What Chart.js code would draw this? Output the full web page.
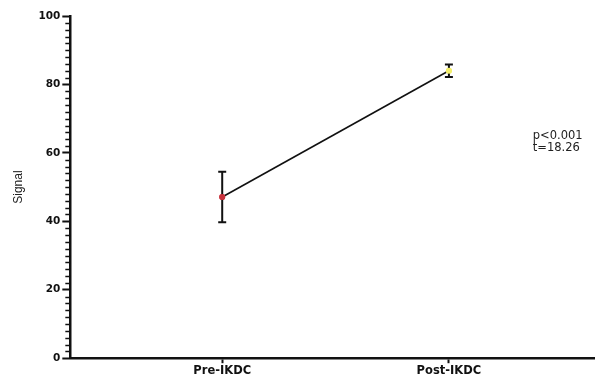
<!DOCTYPE html>
<html>
<head>
<meta charset="utf-8">
<script src="https://cdn.jsdelivr.net/npm/chart.js@4.4.1/dist/chart.umd.min.js"></script>
<style>
  html, body { margin: 0; padding: 0; background: #ffffff; }
  #wrap { width: 598px; height: 381px; }
</style>
</head>
<body>
<div id="wrap"><canvas id="c" width="598" height="381"></canvas></div>
<script>
const categories = ['Pre-IKDC', 'Post-IKDC'];
const categoryPositions = [1, 2];
const means = [47.1, 84.0];
const sds = [7.4, 1.8];
const pointColors = ['#c8323c', '#f2ee6a'];
const yTicks = [0, 20, 40, 60, 80, 100];
const statsText = ['p<0.001', 't=18.26'];
const statsPos = { x: 2.37, y: [65.0, 61.5] };

const points = categoryPositions.map((x, i) => ({ x: x, y: means[i] }));

const errorBars = {
  id: 'errorBars',
  afterDatasetsDraw(chart) {
    const ctx = chart.ctx, xs = chart.scales.x, ys = chart.scales.y;
    ctx.save();
    ctx.strokeStyle = '#111';
    ctx.lineWidth = 2;
    points.forEach((p, i) => {
      const px = xs.getPixelForValue(p.x);
      const top = ys.getPixelForValue(p.y + sds[i]);
      const bot = ys.getPixelForValue(p.y - sds[i]);
      ctx.beginPath();
      ctx.moveTo(px, top); ctx.lineTo(px, bot);
      ctx.moveTo(px - 4, top); ctx.lineTo(px + 4, top);
      ctx.moveTo(px - 4, bot); ctx.lineTo(px + 4, bot);
      ctx.stroke();
    });
    points.forEach((p, i) => {
      const px = xs.getPixelForValue(p.x), py = ys.getPixelForValue(p.y);
      ctx.beginPath();
      ctx.fillStyle = pointColors[i];
      ctx.arc(px, py, 3, 0, Math.PI * 2);
      ctx.fill();
    });
    ctx.fillStyle = '#222';
    ctx.font = '11.5px "DejaVu Sans", sans-serif';
    ctx.textAlign = 'left';
    ctx.textBaseline = 'middle';
    statsText.forEach((t, i) => {
      ctx.fillText(t, xs.getPixelForValue(statsPos.x), ys.getPixelForValue(statsPos.y[i]));
    });
    ctx.restore();
  }
};

const minorTicks = {
  id: 'minorTicks',
  afterDraw(chart) {
    const ctx = chart.ctx, ys = chart.scales.y;
    const left = chart.chartArea.left;
    ctx.save();
    ctx.strokeStyle = '#111';
    ctx.lineWidth = 1.5;
    for (let v = ys.min; v <= ys.max; v += 2) {
      if (v % 20 === 0) continue;
      const py = Math.round(ys.getPixelForValue(v)) + 0.5;
      ctx.beginPath();
      ctx.moveTo(left - 5, py); ctx.lineTo(left, py);
      ctx.stroke();
    }
    ctx.restore();
  }
};

new Chart(document.getElementById('c'), {
  type: 'scatter',
  data: {
    datasets: [{
      data: points,
      showLine: true,
      borderColor: '#111',
      borderWidth: 1.6,
      pointBackgroundColor: pointColors,
      pointBorderWidth: 0,
      pointRadius: 3
    }]
  },
  options: {
    responsive: false,
    animation: false,
    devicePixelRatio: 1,
    layout: { padding: { top: 16, right: 0, left: 11, bottom: 2 } },
    plugins: { legend: { display: false }, tooltip: { enabled: false } },
    scales: {
      x: {
        type: 'linear',
        min: 0.33, max: 2.64,
        afterBuildTicks(scale) { scale.ticks = categoryPositions.map(v => ({ value: v })); },
        ticks: {
          callback(v) { const i = categoryPositions.indexOf(v); return i >= 0 ? categories[i] : ''; },
          color: '#111',
          font: { family: 'DejaVu Sans', size: 11.5, weight: 'bold' },
          padding: 1,
          maxRotation: 0
        },
        grid: { drawOnChartArea: false, tickLength: 5, tickWidth: 2, tickColor: '#111' },
        border: { color: '#111', width: 2.5 }
      },
      y: {
        min: 0, max: 100,
        afterBuildTicks(scale) { scale.ticks = yTicks.map(v => ({ value: v })); },
        ticks: {
          color: '#111',
          font: { family: 'DejaVu Sans', size: 10.5, weight: 'bold' },
          padding: 2
        },
        grid: { drawOnChartArea: false, tickLength: 8, tickWidth: 2, tickColor: '#111' },
        border: { color: '#111', width: 2.5 },
        title: {
          display: true,
          text: 'Signal',
          color: '#222',
          font: { family: 'Liberation Sans', size: 12 },
          padding: { top: 0, bottom: 11 }
        }
      }
    }
  },
  plugins: [errorBars, minorTicks]
});
</script>
</body>
</html>
